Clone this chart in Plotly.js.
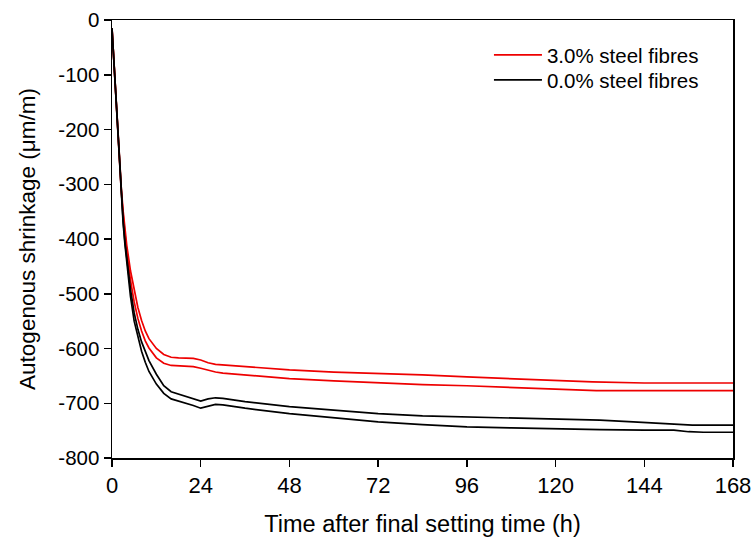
<!DOCTYPE html>
<html>
<head>
<meta charset="utf-8">
<script src="https://cdn.plot.ly/plotly-3.0.1.min.js"></script>
<style>html,body{margin:0;padding:0;background:#fff;}#chart{width:753px;height:543px;}</style>
</head>
<body>
<div id="chart"></div>
<script>
// Time after final setting (h)
const hoursEarly = [0, 0.5, 1, 1.5, 2, 2.5, 3, 3.5, 4, 5, 6, 7, 8, 9, 10, 12, 14, 16, 18, 20, 22, 24, 26, 28, 30, 36, 48, 60, 72, 84, 96, 108, 120];

// 3.0% steel fibres – upper (less shrinkage) curve
const steel30_upper_x = hoursEarly.concat([130, 144, 168]);
const steel30_upper_y = [-15, -75, -140, -200, -258, -306, -348, -383, -412, -458, -495, -525, -549, -568, -582, -600, -611, -616, -617, -617, -618, -621, -626, -629, -630, -633, -639, -643, -645, -648, -652, -655, -659, -661, -663, -663];

// 3.0% steel fibres – lower curve
const steel30_lower_x = hoursEarly.concat([131, 168]);
const steel30_lower_y = [-15, -75, -140, -203, -262, -312, -355, -393, -425, -475, -515, -545, -568, -586, -599, -617, -627, -631, -632, -632, -633, -636, -640, -643, -645, -648, -655, -659, -663, -666, -668, -671, -674, -677, -677];

// 0.0% steel fibres – upper curve
const steel00_upper_x = hoursEarly.concat([132, 141, 150, 157, 168]);
const steel00_upper_y = [-15, -75, -140, -205, -265, -318, -365, -405, -438, -492, -535, -565, -588, -606, -622, -647, -668, -679, -683, -687, -692, -696, -692, -690, -691, -697, -706, -713, -719, -723, -725, -727, -729, -731, -734, -737, -740, -740];

// 0.0% steel fibres – lower curve
const steel00_lower_x = hoursEarly.concat([132, 144, 152, 156, 160, 168]);
const steel00_lower_y = [-15, -75, -140, -205, -265, -320, -370, -410, -445, -505, -550, -580, -605, -625, -642, -665, -682, -692, -696, -699, -704, -709, -706, -702, -703, -709, -719, -727, -734, -739, -743, -745, -747, -748, -749, -749, -752, -753, -753];

const xTicks = [0, 24, 48, 72, 96, 120, 144, 168];
const yTicks = [0, -100, -200, -300, -400, -500, -600, -700, -800];

const RED = '#ee0000', BLACK = '#000000';
const FONT = '"Liberation Sans", Arial, sans-serif';

const traces = [
  {x: steel30_upper_x, y: steel30_upper_y, mode: 'lines', name: '3.0% steel fibres', line: {color: RED, width: 1.7}, showlegend: true, legend: 'legend'},
  {x: steel30_lower_x, y: steel30_lower_y, mode: 'lines', name: '3.0% steel fibres', line: {color: RED, width: 1.7}, showlegend: false},
  {x: steel00_upper_x, y: steel00_upper_y, mode: 'lines', name: '0.0% steel fibres', line: {color: BLACK, width: 1.7}, showlegend: true, legend: 'legend2'},
  {x: steel00_lower_x, y: steel00_lower_y, mode: 'lines', name: '0.0% steel fibres', line: {color: BLACK, width: 1.7}, showlegend: false}
];

const legendBase = {xanchor: 'left', yanchor: 'middle', bgcolor: 'rgba(0,0,0,0)', font: {size: 20.5}, itemwidth: 48};

const layout = {
  width: 753, height: 543,
  margin: {l: 112, r: 20, t: 20, b: 85},
  paper_bgcolor: '#fff', plot_bgcolor: '#fff',
  font: {family: FONT, size: 20, color: '#000'},
  showlegend: true,
  legend: Object.assign({x: 0.607, y: 0.92}, legendBase),
  legend2: Object.assign({x: 0.607, y: 0.863}, legendBase),
  xaxis: {
    range: [0, 168], tickvals: xTicks, ticktext: xTicks.map(String),
    showgrid: false, zeroline: false, showline: true, linecolor: '#000', linewidth: 1.5, mirror: true,
    ticks: 'outside', ticklen: 7, tickwidth: 1.5, tickcolor: '#000',
    tickfont: {size: 22},
    title: {text: 'Time after final setting time (h)', font: {size: 23.5}, standoff: 18}
  },
  yaxis: {
    range: [-800, 0], tickvals: yTicks, ticktext: yTicks.map(String),
    showgrid: false, zeroline: false, showline: true, linecolor: '#000', linewidth: 1.5, mirror: true,
    ticks: 'outside', ticklen: 7, tickwidth: 1.5, tickcolor: '#000',
    tickfont: {size: 20.5},
    title: {text: 'Autogenous shrinkage (μm/m)', font: {size: 22.5}, standoff: 16}
  }
};

Plotly.newPlot('chart', traces, layout, {staticPlot: true, displayModeBar: false});
</script>
</body>
</html>
